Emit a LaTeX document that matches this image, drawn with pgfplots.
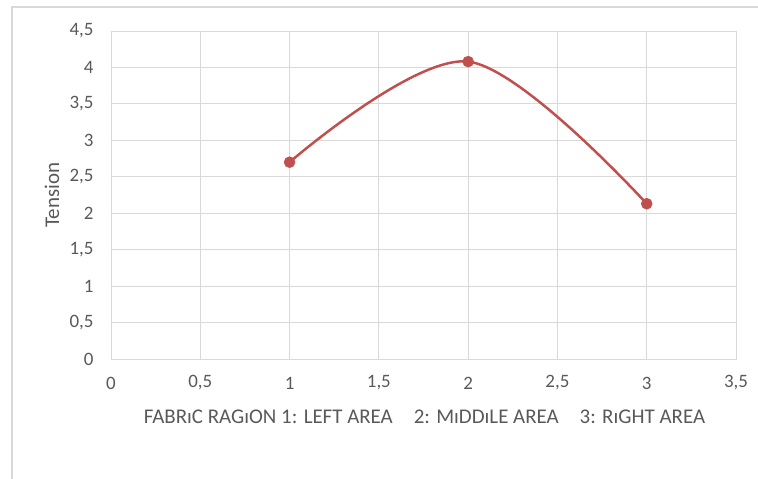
\documentclass[border=0pt]{standalone}
\usepackage{pgfplots}
\pgfplotsset{compat=1.18}
\usepackage{fontspec}
\setmainfont{Carlito}
\definecolor{txt}{HTML}{595959}
\definecolor{grd}{HTML}{D9D9D9}
\definecolor{ser}{HTML}{C0504D}
\begin{document}
\begin{tikzpicture}[x=1bp,y=1bp]
\path[use as bounding box] (-111,-120) rectangle (647,359);
\draw[grd,line width=1.5bp] (-99,-120) -- (-99,352) -- (647,352);
\begin{axis}[
  at={(0,0)}, anchor=south west,
  scale only axis, width=625bp, height=328bp,
  xmin=0, xmax=3.5, ymin=0, ymax=4.5,
  xtick={0,0.5,...,3.5}, ytick={0,0.5,...,4.5},
  grid=major, major grid style={grd, line width=0.9bp},
  axis line style={grd, line width=0.9bp},
  major tick length=0pt,
  tick label style={font=\fontsize{19}{22}\selectfont, text=txt},
  /pgf/number format/use comma,
  /pgf/number format/assume math mode=true,
  xticklabel style={anchor=center, yshift=-24bp},
  yticklabel style={anchor=east, xshift=-14bp},
  ylabel={Tension},
  ylabel style={font=\fontsize{21}{24}\selectfont, text=txt, at={(axis description cs:-0.0944,0.5)}, anchor=center},
  xlabel={FABR\i C RAG\i ON 1: LEFT AREA\hspace{1em}2: M\i DD\i LE AREA\hspace{1em}3: R\i GHT AREA},
  xlabel style={font=\fontsize{21}{24}\selectfont, text=txt, at={(axis description cs:0.5016,-0.177)}, anchor=center},
]
\addplot[ser, line width=2.5bp, smooth, tension=0.55, mark=*, mark size=5.5bp, mark options={fill=ser, draw=ser, line width=0.5bp}]
  coordinates {(1,2.70) (2,4.08) (3,2.13)};
\end{axis}
\end{tikzpicture}
\end{document}
